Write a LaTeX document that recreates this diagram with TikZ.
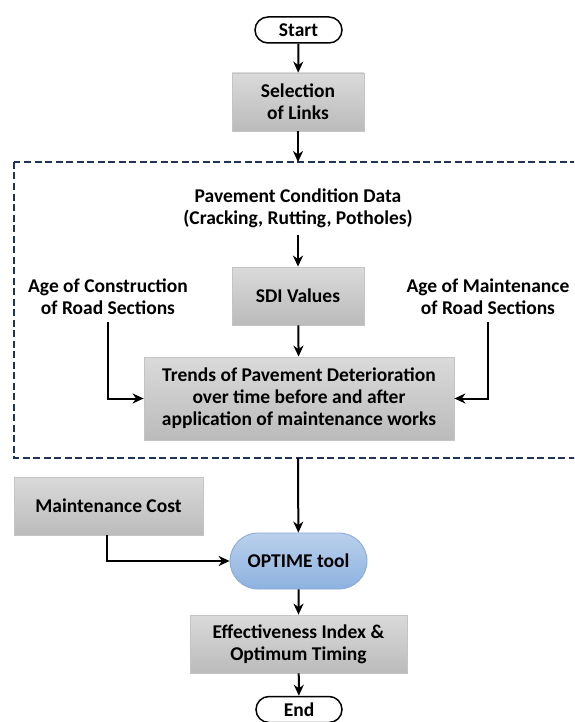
\documentclass[tikz,border=0pt]{standalone}
\usepackage{fontspec}
\setmainfont{Carlito}
\usetikzlibrary{arrows.meta,shapes.misc}
\definecolor{dashnavy}{HTML}{1F3457}
\definecolor{optop}{HTML}{BAD0EC}
\definecolor{opbot}{HTML}{8DB2E0}
\definecolor{opedge}{HTML}{86A8D6}
\definecolor{gtop}{HTML}{DADADA}
\definecolor{gbot}{HTML}{BBBBBB}
\definecolor{gedge}{HTML}{C4C4C4}
\begin{document}
\begin{tikzpicture}[x=1pt,y=-1pt,
  every node/.style={font=\fontsize{19.5}{22}\selectfont\bfseries},
  graybox/.style={draw=gedge, line width=0.8pt, top color=gtop, bottom color=gbot, align=center, inner sep=0pt},
  terminal/.style={rounded rectangle, draw=black, line width=1.5pt, fill=white, minimum width=87pt, minimum height=26pt, inner sep=0pt},
  label/.style={align=center, inner sep=7pt},
  arr/.style={-{Stealth[length=11pt,width=10pt,inset=3.5pt]}, line width=2pt, black},
  dashbox/.style={draw=dashnavy, line width=2.4pt, dash pattern=on 7pt off 3.5pt}
]
\useasboundingbox (0,0) rectangle (574,722);
\fill[white] (0,0) rectangle (574,722);
\begin{scope}
  \clip (0,0) rectangle (574,722);
  \draw[dashbox] (14,162) rectangle (640,458);
\end{scope}
\coordinate (dtop) at (298,162);
\coordinate (dbot) at (298,458);

\node[terminal] (start) at (298.5,30) {Start};
\node[graybox, minimum width=132pt, minimum height=58pt] (sel) at (298,102) {Selection\\of Links};
\node[label] (pav) at (298,208) {Pavement Condition Data\\(Cracking, Rutting, Potholes)};
\node[graybox, minimum width=132pt, minimum height=58pt] (sdi) at (298,296) {SDI Values};
\node[label] (agec) at (108,297) {Age of Construction\\of Road Sections};
\node[label] (agem) at (488,297) {Age of Maintenance\\of Road Sections};
\node[graybox, minimum width=310pt, minimum height=83pt] (trends) at (299,398.5) {Trends of Pavement Deterioration\\over time before and after\\application of maintenance works};
\node[graybox, minimum width=189pt, minimum height=58pt] (cost) at (108.5,506) {Maintenance Cost};
\node[rounded rectangle, draw=opedge, line width=0.8pt, top color=optop, bottom color=opbot, minimum width=137pt, minimum height=56pt, inner sep=0pt] (optime) at (298.5,561) {OPTIME tool};
\node[graybox, minimum width=217pt, minimum height=58pt] (eff) at (298.5,644) {Effectiveness Index \&\\Optimum Timing};
\node[terminal, minimum width=86pt] (end) at (299,709.5) {End};

\draw[arr] (start) -- (sel);
\draw[arr] (sel) -- (dtop);
\draw[arr] (pav) -- (sdi);
\draw[arr] (sdi) -- (trends);
\draw[arr] (agec.south) |- (trends.west);
\draw[arr] (agem.south) |- (trends.east);
\draw[arr] (dbot) -- (optime);
\draw[arr] ([xshift=-1.5pt]cost.south) |- (optime.west);
\draw[arr] (optime) -- (eff);
\draw[arr] (eff) -- (end);
\end{tikzpicture}
\end{document}
